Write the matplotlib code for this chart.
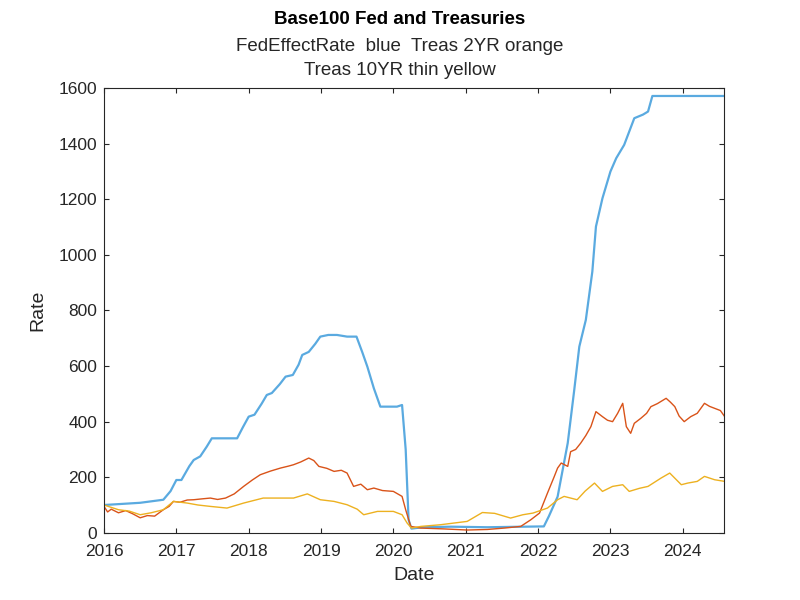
import matplotlib
matplotlib.use("Agg")
import matplotlib.pyplot as plt

# values (x in decimal years, y = base 100)
fed_x = [2016.0, 2016.5, 2016.82, 2016.92, 2017.0, 2017.07, 2017.18, 2017.24, 2017.33, 2017.42, 2017.49,
         2017.84, 2017.92, 2018.0, 2018.08, 2018.18, 2018.25, 2018.32, 2018.43, 2018.51, 2018.61,
         2018.69, 2018.74, 2018.83, 2018.92, 2018.99, 2019.1, 2019.22, 2019.36, 2019.49, 2019.57,
         2019.64, 2019.73, 2019.82, 2020.05, 2020.12, 2020.17, 2020.21, 2020.25, 2020.4, 2020.8,
         2021.3, 2021.8, 2022.08, 2022.15, 2022.27, 2022.41, 2022.5, 2022.57, 2022.66, 2022.75,
         2022.8, 2022.89, 2023.0, 2023.08, 2023.19, 2023.33, 2023.45, 2023.52, 2023.58, 2024.0,
         2024.57]
fed_y = [100, 108, 119, 150, 190, 190, 240, 262, 275, 310, 340,
         340, 380, 418, 425, 465, 496, 503, 535, 562, 568,
         605, 640, 651, 680, 706, 712, 712, 706, 706, 650,
         598, 520, 454, 454, 460, 300, 47, 15, 20, 22,
         20, 22, 23, 60, 130, 323, 514, 670, 766, 940,
         1102, 1204, 1300, 1348, 1396, 1492, 1505, 1516, 1572, 1572,
         1572]

t2_x = [2016.0, 2016.05, 2016.1, 2016.2, 2016.3, 2016.4, 2016.5, 2016.6, 2016.7, 2016.82, 2016.9, 2016.96,
        2017.05, 2017.15, 2017.24, 2017.35, 2017.47, 2017.57, 2017.68, 2017.8, 2017.93, 2018.05,
        2018.16, 2018.3, 2018.44, 2018.55, 2018.62, 2018.72, 2018.83, 2018.9, 2018.97, 2019.08,
        2019.18, 2019.28, 2019.36, 2019.45, 2019.55, 2019.64, 2019.73, 2019.85, 2020.0, 2020.12,
        2020.17, 2020.24, 2020.38, 2020.7, 2021.02, 2021.3, 2021.53, 2021.76, 2021.9, 2022.02,
        2022.13, 2022.22, 2022.27, 2022.32, 2022.41, 2022.45, 2022.52, 2022.59, 2022.66, 2022.73,
        2022.8, 2022.89, 2022.96, 2023.03, 2023.1, 2023.17, 2023.22, 2023.28, 2023.33, 2023.42,
        2023.5, 2023.56, 2023.65, 2023.77, 2023.83, 2023.89, 2023.95, 2024.02, 2024.11, 2024.2,
        2024.3, 2024.37, 2024.44, 2024.52, 2024.58]
t2_y = [95, 75, 85, 72, 80, 68, 54, 62, 60, 83, 95, 113,
        110, 118, 119, 122, 125, 120, 125, 140, 167, 190,
        209, 222, 233, 240, 245, 255, 269, 260, 239, 232,
        221, 225, 215, 167, 175, 155, 161, 152, 149, 131,
        83, 23, 17, 14, 10, 12, 17, 23, 47, 71,
        143, 200, 233, 251, 239, 292, 300, 323, 350, 382,
        436, 418, 405, 400, 430, 466, 382, 358, 394, 412,
        430, 454, 465, 484, 470, 454, 420, 400, 418, 430,
        466, 455, 448, 440, 418]

t10_x = [2016.0, 2016.2, 2016.35, 2016.5, 2016.65, 2016.82, 2016.96, 2017.15, 2017.3, 2017.47, 2017.7,
         2017.93, 2018.2, 2018.44, 2018.62, 2018.81, 2018.99, 2019.18, 2019.36, 2019.5, 2019.59,
         2019.78, 2020.0, 2020.12, 2020.19, 2020.25, 2020.38, 2020.65, 2021.02, 2021.23, 2021.4,
         2021.62, 2021.79, 2021.93, 2022.13, 2022.27, 2022.36, 2022.54, 2022.65, 2022.78, 2022.89,
         2023.03, 2023.17, 2023.26, 2023.4, 2023.52, 2023.7, 2023.82, 2023.98, 2024.07, 2024.2,
         2024.3, 2024.44, 2024.58]
t10_y = [100, 83, 78, 65, 72, 83, 113, 107, 100, 95, 89,
         107, 125, 125, 125, 140, 119, 113, 101, 85, 65,
         77, 77, 65, 35, 17, 23, 29, 41, 73, 70,
         53, 65, 71, 89, 119, 131, 119, 150, 179, 149,
         167, 173, 149, 160, 167, 197, 215, 173, 179, 185,
         203, 191, 185]

fig, ax = plt.subplots(figsize=(8, 6), dpi=100)
fig.subplots_adjust(left=0.13, right=0.905, bottom=0.112, top=0.853)
plt.rcParams['font.family'] = ['Liberation Sans', 'DejaVu Sans']

ax.plot(fed_x, fed_y, color="#5AAAE0", linewidth=1.6)
ax.plot(t2_x, t2_y, color="#D95319", linewidth=1.0)
ax.plot(t10_x, t10_y, color="#EDB120", linewidth=1.0)

ax.set_xlim(2016, 2024.57)
ax.set_ylim(0, 1600)
ax.set_xticks(range(2016, 2025))
ax.set_xticklabels([str(y) for y in range(2016, 2025)], family="Liberation Sans")
ax.set_yticks(range(0, 1601, 200))
ax.set_yticklabels([str(v) for v in range(0, 1601, 200)], family="Liberation Sans")
ax.tick_params(direction="in", top=True, right=True, labelsize=12.5, colors="#262626",
               length=3.5, width=0.8)
ax.tick_params(axis="x", pad=8)
ax.tick_params(axis="y", pad=5)
for s in ax.spines.values():
    s.set_color("#262626")
    s.set_linewidth(0.8)

ax.set_xlabel("Date", fontsize=14, family="Liberation Sans", color="#262626", labelpad=6)
ax.set_ylabel("Rate", fontsize=14, family="Liberation Sans", color="#262626", labelpad=9)

fig.text(0.5, 0.968, "Base100 Fed and Treasuries", ha="center", va="center",
         fontsize=13.5, fontweight="bold", family="Liberation Sans")
fig.text(0.5, 0.923, "FedEffectRate  blue  Treas 2YR orange", ha="center", va="center",
         fontsize=13.5, family="Liberation Sans", color="#262626")
fig.text(0.5, 0.882, "Treas 10YR thin yellow", ha="center", va="center",
         fontsize=13.5, family="Liberation Sans", color="#262626")

fig.savefig("out.png", dpi=100)
